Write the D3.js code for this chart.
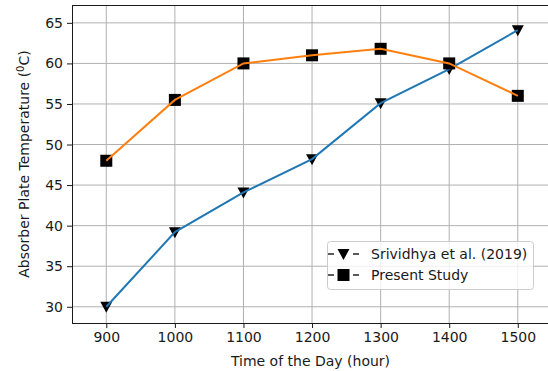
<!DOCTYPE html>
<html>
<head>
<meta charset="utf-8">
<script src="https://cdnjs.cloudflare.com/ajax/libs/d3/7.8.5/d3.min.js"></script>
<style>
    html, body { margin: 0; padding: 0; background: #fff; }
    svg text { font-family: "DejaVu Sans", sans-serif; fill: #1a1a1a; }
</style>
</head>
<body>
<div id="chart-holder"></div>
<script>
// Absorber plate temperature over the day
var hours = [900, 1000, 1100, 1200, 1300, 1400, 1500];
var srividhyaTemp = [30, 39.2, 44.1, 48.2, 55.1, 59.3, 64.1];
var presentTemp = [48, 55.5, 60, 61, 61.8, 60, 56];
var yTicks = [30, 35, 40, 45, 50, 55, 60, 65];
var seriesNames = ['Srividhya et al. (2019)', 'Present Study'];

var width = 548, height = 371,
    plotLeft = 72, plotRight = 549, plotTop = 5, plotBottom = 323,
    fontSize = 14, tickLen = 5;

var svg = d3.select('#chart-holder').append('svg')
    .attr('width', width)
    .attr('height', height);

var x = d3.scaleLinear().domain([850, 1545.5]).range([plotLeft, plotRight]);
var y = d3.scaleLinear().domain([28, 67.2]).range([plotBottom, plotTop]);

// grid
svg.append('g').selectAll('line')
    .data(hours).enter().append('line')
    .attr('x1', function (d) { return x(d); })
    .attr('x2', function (d) { return x(d); })
    .attr('y1', plotTop).attr('y2', plotBottom)
    .attr('stroke', '#b0b0b0').attr('stroke-width', 1);
svg.append('g').selectAll('line')
    .data(yTicks).enter().append('line')
    .attr('y1', function (d) { return y(d); })
    .attr('y2', function (d) { return y(d); })
    .attr('x1', plotLeft).attr('x2', plotRight)
    .attr('stroke', '#b0b0b0').attr('stroke-width', 1);

// axes
var xAxis = svg.append('g')
    .attr('transform', 'translate(0,' + plotBottom + ')')
    .call(d3.axisBottom(x).tickValues(hours).tickSize(tickLen).tickPadding(4).tickFormat(d3.format('d')));
var yAxis = svg.append('g')
    .attr('transform', 'translate(' + plotLeft + ',0)')
    .call(d3.axisLeft(y).tickValues(yTicks).tickSize(tickLen).tickPadding(4));

[xAxis, yAxis].forEach(function (a) {
    a.select('.domain').remove();
    a.selectAll('line').attr('stroke', '#1a1a1a').attr('stroke-width', 1);
    a.selectAll('text').attr('font-size', fontSize).attr('font-family', null).style('fill', '#1a1a1a');
});

// frame (right spine falls just off the picture)
svg.append('rect')
    .attr('x', plotLeft + 0.5).attr('y', plotTop + 0.5)
    .attr('width', plotRight - plotLeft).attr('height', plotBottom - plotTop)
    .attr('fill', 'none').attr('stroke', '#1a1a1a').attr('stroke-width', 1);

// labels
svg.append('text')
    .attr('x', (plotLeft + plotRight) / 2).attr('y', 366)
    .attr('text-anchor', 'middle').attr('font-size', fontSize)
    .text('Time of the Day (hour)');

var yLabel = svg.append('text')
    .attr('transform', 'translate(29,' + ((plotTop + plotBottom) / 2) + ') rotate(-90)')
    .attr('text-anchor', 'middle').attr('font-size', fontSize);
yLabel.append('tspan').text('Absorber Plate Temperature (');
yLabel.append('tspan').attr('font-size', 10).attr('dy', -5).text('0');
yLabel.append('tspan').attr('dy', 5).text('C)');

// lines
var line = d3.line()
    .x(function (d) { return x(d[0]); })
    .y(function (d) { return y(d[1]); });

var series = [
    { name: seriesNames[0], values: d3.zip(hours, srividhyaTemp), color: '#1f77b4', marker: 'tri' },
    { name: seriesNames[1], values: d3.zip(hours, presentTemp), color: '#ff7f0e', marker: 'sq' }
];

var triDown = 'M-6,-5L6,-5L0,6Z';

function drawMarker(g, kind, cx, cy) {
    if (kind === 'sq') {
        g.append('rect')
            .attr('x', cx - 6).attr('y', cy - 6)
            .attr('width', 12).attr('height', 12)
            .attr('fill', '#000');
    } else {
        g.append('path')
            .attr('d', triDown)
            .attr('transform', 'translate(' + cx + ',' + cy + ')')
            .attr('fill', '#000');
    }
}

series.forEach(function (s) {
    var g = svg.append('g');
    s.values.forEach(function (d) { drawMarker(g, s.marker, x(d[0]), y(d[1])); });
    g.append('path')
        .datum(s.values)
        .attr('d', line)
        .attr('fill', 'none')
        .attr('stroke', s.color)
        .attr('stroke-width', 2);
});

// legend
var lg = svg.append('g');
lg.append('rect')
    .attr('x', 327.5).attr('y', 241.5)
    .attr('width', 206).attr('height', 48)
    .attr('rx', 3)
    .attr('fill', '#fff').attr('fill-opacity', 0.8)
    .attr('stroke', '#cccccc').attr('stroke-width', 1);

series.forEach(function (s, i) {
    var cy = 254 + i * 21;
    lg.append('line').attr('x1', 328).attr('x2', 334).attr('y1', cy).attr('y2', cy)
        .attr('stroke', '#000').attr('stroke-width', 1.3);
    lg.append('line').attr('x1', 353).attr('x2', 359).attr('y1', cy).attr('y2', cy)
        .attr('stroke', '#000').attr('stroke-width', 1.3);
    drawMarker(lg, s.marker, 343.5, cy);
    lg.append('text')
        .attr('x', 371).attr('y', cy + 5)
        .attr('font-size', fontSize)
        .text(s.name);
});
</script>
</body>
</html>
